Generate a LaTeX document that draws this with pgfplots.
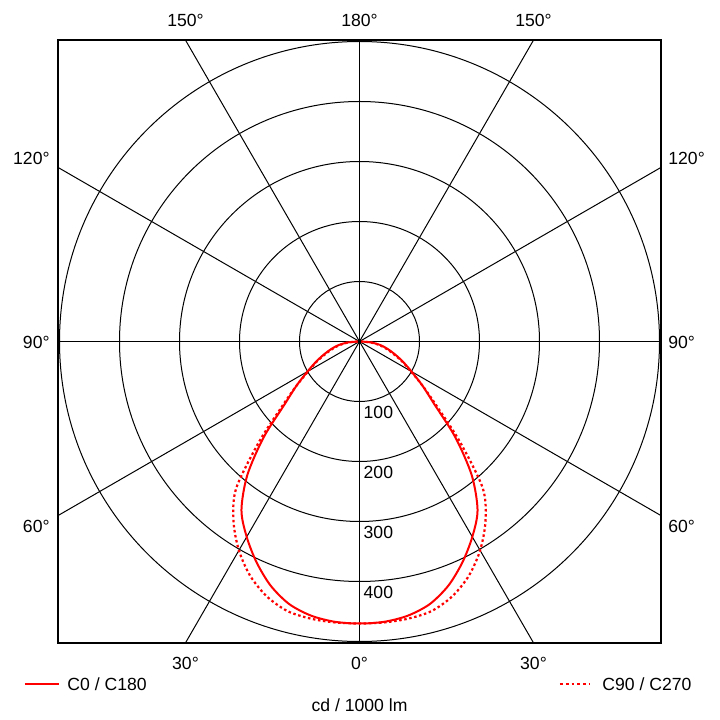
\documentclass[border=0pt]{standalone}
\usepackage{fontspec}
\setmainfont{Liberation Sans}
\usepackage{pgfplots}
\usepackage{pgfplotstable}
\pgfplotsset{compat=1.18}

% luminous intensity, cd / 1000 lm, angle from nadir
\pgfplotstableread{
a I
-90 3
-85 21
-80 36
-75 49
-70 63
-65 80
-60 100
-55 128
-50 163
-45 226
-40 291
-35 343
-30 376
-25 406
-20 433
-15 453
-10 464
-5 469
0 470
5 469
10 464
15 453
20 433
25 406
30 376
35 343
40 291
45 226
50 163
55 128
60 100
65 80
70 63
75 49
80 36
85 21
90 3
}\czero

\pgfplotstableread{
a I
-90 3
-85 19
-80 33
-75 46
-70 60
-65 78
-60 98
-55 128
-50 169
-45 237
-40 320
-35 366
-30 402
-25 431
-20 452
-15 465
-10 469
-5 470
0 470
5 470
10 469
15 465
20 452
25 431
30 402
35 366
40 320
45 237
50 169
55 128
60 98
65 78
70 60
75 46
80 33
85 19
90 3
}\cninety

\begin{document}
\begin{tikzpicture}[font=\fontsize{8.8}{10}\selectfont]
\useasboundingbox (-29pt,-38.5pt) rectangle (331pt,321.5pt);
\begin{axis}[
    at={(0pt,0pt)}, anchor=south west,
    width=301.5pt, height=301.5pt, scale only axis,
    xmin=-502.5, xmax=502.5, ymin=-502.5, ymax=502.5,
    xtick=\empty, ytick=\empty,
    axis line style={line width=0.7pt},
]
% grid
\draw[line width=0.5pt] (axis cs:0,0) circle[radius=100];
\draw[line width=0.5pt] (axis cs:0,0) circle[radius=200];
\draw[line width=0.5pt] (axis cs:0,0) circle[radius=300];
\draw[line width=0.5pt] (axis cs:0,0) circle[radius=400];
\draw[line width=0.5pt] (axis cs:0,0) circle[radius=500];
\addplot[black, line width=0.5pt, no markers] coordinates {(0,-800) (0,800)};
\addplot[black, line width=0.5pt, no markers] coordinates {(-800,0) (800,0)};
\addplot[black, line width=0.5pt, no markers] coordinates {(400,-692.8) (-400,692.8)};
\addplot[black, line width=0.5pt, no markers] coordinates {(-400,-692.8) (400,692.8)};
\addplot[black, line width=0.5pt, no markers] coordinates {(692.8,-400) (-692.8,400)};
\addplot[black, line width=0.5pt, no markers] coordinates {(-692.8,-400) (692.8,400)};
% curves
\addplot[red, line width=1.1pt, smooth, no markers, dash pattern=on 1.25pt off 1.3pt]
    table[x expr=\thisrow{I}*sin(\thisrow{a}), y expr=-\thisrow{I}*cos(\thisrow{a})] {\cninety};
\addplot[red, line width=1pt, smooth, no markers]
    table[x expr=\thisrow{I}*sin(\thisrow{a}), y expr=-\thisrow{I}*cos(\thisrow{a})] {\czero};
\end{axis}

% angle labels
\node[anchor=base, inner sep=0] at (63.75pt,308.35pt) {150°};
\node[anchor=base, inner sep=0] at (150.75pt,308.35pt) {180°};
\node[anchor=base, inner sep=0] at (237.75pt,308.35pt) {150°};
\node[anchor=base, inner sep=0] at (63.75pt,-13.15pt) {30°};
\node[anchor=base, inner sep=0] at (150.75pt,-13.15pt) {0°};
\node[anchor=base, inner sep=0] at (237.75pt,-13.15pt) {30°};
\node[anchor=base east, inner sep=0] at (-4pt,239.35pt) {120°};
\node[anchor=base east, inner sep=0] at (-4pt,147.35pt) {90°};
\node[anchor=base east, inner sep=0] at (-4pt,55.35pt) {60°};
\node[anchor=base west, inner sep=0] at (305pt,239.35pt) {120°};
\node[anchor=base west, inner sep=0] at (305pt,147.35pt) {90°};
\node[anchor=base west, inner sep=0] at (305pt,55.35pt) {60°};
% intensity labels
\node[anchor=base west, inner sep=0] at (152.65pt,112.25pt) {100};
\node[anchor=base west, inner sep=0] at (152.65pt,82.25pt) {200};
\node[anchor=base west, inner sep=0] at (152.65pt,52.25pt) {300};
\node[anchor=base west, inner sep=0] at (152.65pt,22.25pt) {400};
% legend and unit
\draw[red, line width=1pt] (-16.5pt,-20.5pt) -- (0.5pt,-20.5pt);
\node[anchor=base west, inner sep=0] at (4.5pt,-23.65pt) {C0 / C180};
\draw[red, line width=1.1pt, dash pattern=on 1.4pt off 1.5pt] (251pt,-20.5pt) -- (266pt,-20.5pt);
\node[anchor=base west, inner sep=0] at (272pt,-23.65pt) {C90 / C270};
\node[anchor=base, inner sep=0] at (150.75pt,-34pt) {cd / 1000 lm};
\end{tikzpicture}
\end{document}
